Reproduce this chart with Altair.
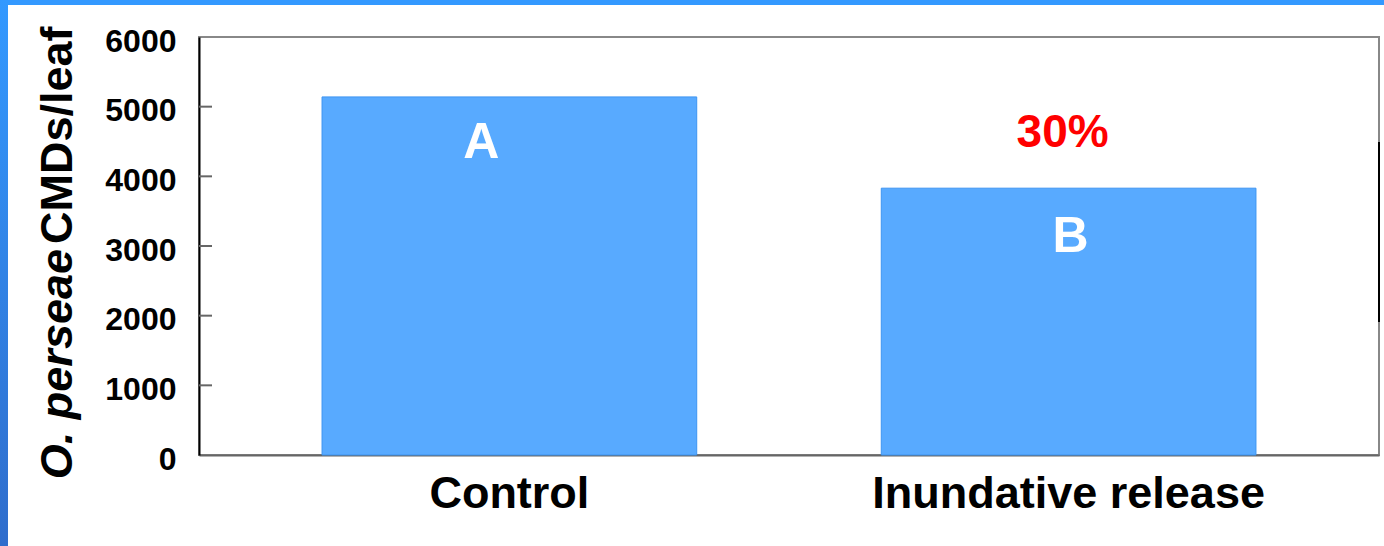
import altair as alt
import pandas as pd

categories = ["Control", "Inundative release"]
values = [5140, 3830]
letters = ["A", "B"]
reduction_label = "30%"
y_ticks = [0, 1000, 2000, 3000, 4000, 5000, 6000]
inner_ticks = [1000, 2000, 3000, 4000, 5000]

FONT = "Liberation Sans"

df = pd.DataFrame({"cat": categories, "val": values, "letter": letters})
ticks_df = pd.DataFrame({"v": inner_ticks})
one = pd.DataFrame({"d": [0]})

x_enc = alt.X("cat:N", sort=categories,
              scale=alt.Scale(paddingInner=0.33, paddingOuter=0.22),
              axis=alt.Axis(title=None, labelAngle=0, labelFontSize=45, labelFontWeight="bold",
                            labelFont=FONT, labelColor="black", labelPadding=16, ticks=False,
                            tickSize=0, labelLimit=0, domainColor="#666666", domainWidth=2))
y_scale = alt.Scale(domain=[0, 6000], nice=False)

bars = alt.Chart(df).mark_bar(color="#58aaff", stroke="#3d95f2", strokeWidth=1).encode(
    x=x_enc,
    y=alt.Y("val:Q", scale=y_scale,
            axis=alt.Axis(title=None, values=y_ticks, grid=False, tickSize=0, ticks=False,
                          format="d",
                          labelFontSize=32, labelFontWeight="bold", labelFont=FONT,
                          labelColor="black", labelPadding=23, labelOffset=4,
                          domainColor="black", domainWidth=2)),
)

letter_a = alt.Chart(df).transform_filter(alt.datum.letter == "A").mark_text(
    color="white", font=FONT, fontWeight="bold", fontSize=50, baseline="alphabetic",
    dx=-28, dy=61).encode(x=alt.X("cat:N", sort=categories), y=alt.Y("val:Q"), text="letter:N")

letter_b = alt.Chart(df).transform_filter(alt.datum.letter == "B").mark_text(
    color="white", font=FONT, fontWeight="bold", fontSize=50, baseline="alphabetic",
    dx=2, dy=64).encode(x=alt.X("cat:N", sort=categories), y=alt.Y("val:Q"), text="letter:N")

pct = alt.Chart(df).transform_filter(alt.datum.cat == "Inundative release").mark_text(
    color="#ff0000", font=FONT, fontWeight="bold", fontSize=46, baseline="alphabetic",
    dx=-6, dy=-41, text=reduction_label).encode(x=alt.X("cat:N", sort=categories), y=alt.Y("val:Q"))

inner = alt.Chart(ticks_df).mark_rule(color="#666666", strokeWidth=2).encode(
    x=alt.value(0), x2=alt.value(13), y=alt.Y("v:Q"))

title_it = alt.Chart(one).mark_text(
    text="O. perseae", font=FONT, fontWeight="bold", fontStyle="italic", fontSize=45,
    angle=270, align="right", baseline="alphabetic", color="black").encode(
    x=alt.value(-127), y=alt.value(212))
title_rm = alt.Chart(one).mark_text(
    text="CMDs/leaf", font=FONT, fontWeight="bold", fontSize=45,
    angle=270, align="left", baseline="alphabetic", color="black").encode(
    x=alt.value(-127), y=alt.value(207))

top_strip = alt.Chart(one).mark_rect(color="#3399ff").encode(
    x=alt.value(-199), x2=alt.value(1185), y=alt.value(-37), y2=alt.value(-32))
left_strip = alt.Chart(one).mark_rect(
    color=alt.Gradient(gradient="linear",
                       stops=[alt.GradientStop(color="#3399ff", offset=0),
                              alt.GradientStop(color="#2f6dcc", offset=1)],
                       x1=0, x2=0, y1=0, y2=1)).encode(
    x=alt.value(-199), x2=alt.value(-191), y=alt.value(-37), y2=alt.value(509))
right_mark = alt.Chart(one).mark_rule(color="black", strokeWidth=2).encode(
    x=alt.value(1180), y=alt.value(105), y2=alt.value(285))

chart = alt.layer(bars, letter_a, letter_b, pct, inner, title_it, title_rm,
                  top_strip, left_strip, right_mark).properties(
    width=1180, height=418,
    autosize=alt.AutoSizeParams(type="none"),
    padding={"left": 199, "top": 37, "right": 5, "bottom": 91},
    background="white",
).configure_view(stroke="#888888", strokeWidth=2)

chart.save("out.html", embed_options={"renderer": "svg", "actions": False})
